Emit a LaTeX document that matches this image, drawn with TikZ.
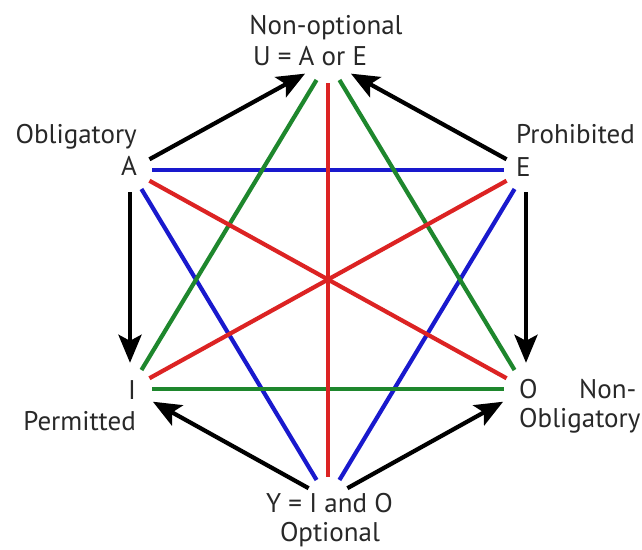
\documentclass[tikz,border=0pt]{standalone}
\usepackage{fontspec}
\setmainfont{PT Sans}
\usetikzlibrary{arrows.meta}
\definecolor{lblue}{RGB}{25,25,205}
\definecolor{lred}{RGB}{220,35,35}
\definecolor{lgreen}{RGB}{30,135,45}
\definecolor{txt}{RGB}{40,40,40}
\begin{document}
\begin{tikzpicture}[x=1pt,y=-1pt,
 vtx/.style={circle,minimum size=44pt,inner sep=0pt},
 cline/.style={line width=4.2pt},
 arr/.style={line width=4.2pt,black,-{Stealth[length=28pt,width=23pt,inset=6pt]},shorten >=4pt},
 lbl/.style={font=\fontsize{27}{32}\selectfont,text=txt,inner sep=0pt}]
\useasboundingbox[fill=white] (0,0) rectangle (642,549);
\node[vtx] (U) at (328,61) {};
\node[vtx] (A) at (130,170) {};
\node[vtx] (E) at (526,170) {};
\node[vtx] (I) at (130,389) {};
\node[vtx] (O) at (526,389) {};
\node[vtx] (Y) at (328,499) {};
% coloured lines
\draw[cline,lblue] (A) -- (E);
\draw[cline,lblue] (A) -- (Y);
\draw[cline,lblue] (E) -- (Y);
\draw[cline,lgreen] (I) -- (O);
\draw[cline,lgreen] (U) -- (I);
\draw[cline,lgreen] (U) -- (O);
\draw[cline,lred] (U) -- (Y);
\draw[cline,lred] (A) -- (O);
\draw[cline,lred] (E) -- (I);
% arrows
\draw[arr] (A) -- (U);
\draw[arr] (E) -- (U);
\draw[arr] (A) -- (I);
\draw[arr] (E) -- (O);
\draw[arr] (Y) -- (I);
\draw[arr] (Y) -- (O);
% labels
\node[lbl,anchor=base] (tU1) at (326,34) {Non-optional};
\node[lbl,anchor=base] (tU2) at (310,65) {U = A or E};
\node[lbl,anchor=base east] (tA1) at (137,143) {Obligatory};
\node[lbl,anchor=base] (tA) at (129,175) {A};
\node[lbl,anchor=base west] (tE1) at (516,143) {Prohibited};
\node[lbl,anchor=base west] (tE) at (516,176) {E};
\node[lbl,anchor=base] (tI) at (132,399) {I};
\node[lbl,anchor=base east] (tI1) at (136,430) {Permitted};
\node[lbl,anchor=base west] (tO) at (519,398) {O};
\node[lbl,anchor=base west] (tO1) at (579,398) {Non-};
\node[lbl,anchor=base west] (tO2) at (519,427) {Obligatory};
\node[lbl,anchor=base] (tY) at (329.5,512) {Y = I and O};
\node[lbl,anchor=base] (tY1) at (330,541) {Optional};
\end{tikzpicture}
\end{document}
